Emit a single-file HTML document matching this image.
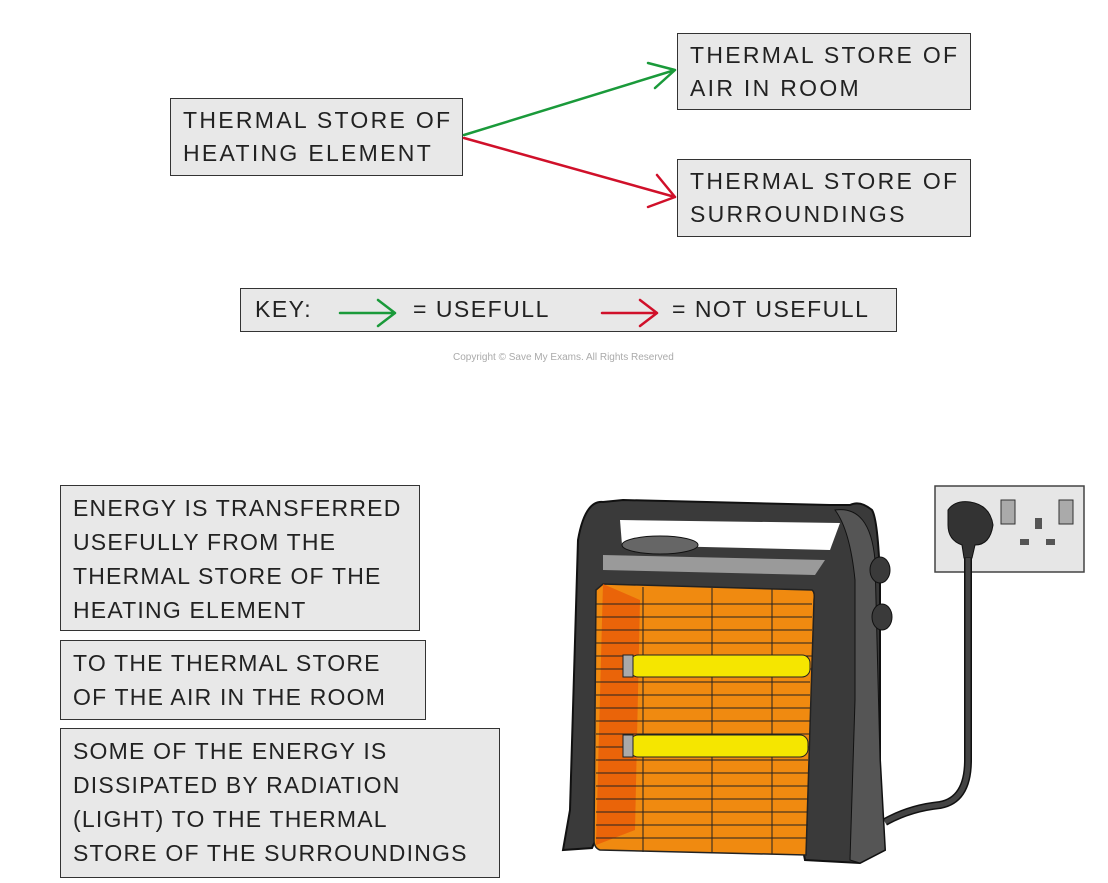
<!DOCTYPE html>
<html><head><style>
body{margin:0;width:1108px;height:883px;background:#fff;position:relative;overflow:hidden;font-family:"Liberation Sans",sans-serif;}
.b{position:absolute;background:#e8e8e8;border:1.5px solid #333;box-sizing:border-box;font-size:23px;letter-spacing:1.2px;line-height:33px;color:#222;padding:5px 0 0 12px;white-space:nowrap;}
.t{letter-spacing:2.3px;}
.k{position:absolute;font-size:23px;letter-spacing:1.5px;color:#222;top:296px;white-space:nowrap;}
</style></head><body>
<div class="b t" style="left:170px;top:98px;width:293px;height:78px;">THERMAL STORE OF<br>HEATING ELEMENT</div>
<div class="b t" style="left:677px;top:33px;width:294px;height:77px;">THERMAL STORE OF<br>AIR IN ROOM</div>
<div class="b t" style="left:677px;top:159px;width:294px;height:78px;">THERMAL STORE OF<br>SURROUNDINGS</div>
<div class="b" style="left:240px;top:288px;width:657px;height:44px;"></div>
<div class="k" style="left:255px">KEY:</div>
<div class="k" style="left:413px">= USEFULL</div>
<div class="k" style="left:672px">= NOT USEFULL</div>
<div style="position:absolute;left:453px;top:352px;font-size:10px;color:#aaa;">Copyright © Save My Exams. All Rights Reserved</div>
<div class="b" style="left:60px;top:485px;width:360px;height:146px;line-height:34px;">ENERGY IS TRANSFERRED<br>USEFULLY FROM THE<br>THERMAL STORE OF THE<br>HEATING ELEMENT</div>
<div class="b" style="left:60px;top:640px;width:366px;height:80px;line-height:34px;">TO THE THERMAL STORE<br>OF THE AIR IN THE ROOM</div>
<div class="b" style="left:60px;top:728px;width:440px;height:150px;line-height:34px;">SOME OF THE ENERGY IS<br>DISSIPATED BY RADIATION<br>(LIGHT) TO THE THERMAL<br>STORE OF THE SURROUNDINGS</div>
<svg width="1108" height="883" style="position:absolute;left:0;top:0">
<g fill="none" stroke-width="2.5" stroke-linecap="round" stroke-linejoin="round">
<path d="M464 135 L675 70 M648 63 L675 70 L655 88" stroke="#1a9a3a"/>
<path d="M464 138 L675 197 M657 175 L675 197 L648 207" stroke="#d0102a"/>
<path d="M340 313 L395 313 M378 300 L395 313 L378 326" stroke="#1a9a3a"/>
<path d="M602 313 L657 313 M640 300 L657 313 L640 326" stroke="#d0102a"/>
</g>
<rect x="935" y="486" width="149" height="86" fill="#e6e6e6" stroke="#444" stroke-width="1.5"/>
<rect x="1001" y="500" width="14" height="24" fill="#aaa" stroke="#333"/>
<rect x="1059" y="500" width="14" height="24" fill="#aaa" stroke="#333"/>
<rect x="1035" y="518" width="7" height="11" fill="#555"/>
<rect x="1020" y="539" width="9" height="6" fill="#555"/>
<rect x="1046" y="539" width="9" height="6" fill="#555"/>
<path d="M948 510 Q955 500 970 502 Q990 505 993 525 Q990 545 975 545 L972 558 L964 558 L962 545 Q948 540 948 525 Z" fill="#333" stroke="#111"/>
<path d="M968 558 L968 760 Q968 800 940 805 Q910 808 885 822" fill="none" stroke="#111" stroke-width="8"/>
<path d="M968 558 L968 760 Q968 800 940 805 Q910 808 885 822" fill="none" stroke="#444" stroke-width="5"/>
<path d="M603 502 Q585 500 578 540 L570 810 L563 850 L592 848 L600 830 L800 835 L805 860 L860 863 L885 850 L880 760 L880 580 Q878 520 872 510 Q860 500 850 505 L830 505 L623 500 Z" fill="#3a3a3a" stroke="#111" stroke-width="2"/>
<path d="M835 510 Q870 505 875 560 L880 760 L885 850 L860 863 L850 860 L855 700 L855 580 Q850 530 835 510Z" fill="#555" stroke="#111"/>
<path d="M620 520 L840 523 L830 550 L622 545 Z" fill="#fff"/>
<ellipse cx="660" cy="545" rx="38" ry="9" fill="#666" stroke="#111"/>
<path d="M603 555 L825 560 L815 575 L603 570 Z" fill="#9a9a9a"/>
<ellipse cx="880" cy="570" rx="10" ry="13" fill="#3a3a3a" stroke="#111"/>
<ellipse cx="882" cy="617" rx="10" ry="13" fill="#3a3a3a" stroke="#111"/>
<path d="M603 584 L812 590 Q815 592 814 600 L806 855 L600 850 Q594 848 594 840 L596 590 Z" fill="#f08a10" stroke="#222" stroke-width="1.5"/>
<path d="M603 584 L640 600 L635 830 L596 845 Z" fill="#e85a08" opacity="0.8"/>
<g stroke="#222" stroke-width="1">
<path d="M596 604H812M596 617H812M596 630H812M596 643H812M596 656H812M596 669H812M596 682H810M596 695H810M596 708H810M596 721H810M596 734H810M596 747H810M596 760H808M596 773H808M596 786H808M596 799H808M596 812H808M596 825H808M596 838H806"/>
<path d="M643 587V852M712 588V853M772 589V854"/>
</g>
<rect x="630" y="655" width="180" height="22" rx="8" fill="#f5e600" stroke="#222"/>
<rect x="630" y="735" width="178" height="22" rx="8" fill="#f5e600" stroke="#222"/>
<rect x="623" y="655" width="10" height="22" fill="#aaa" stroke="#222"/>
<rect x="623" y="735" width="10" height="22" fill="#aaa" stroke="#222"/>
</svg>
</body></html>
